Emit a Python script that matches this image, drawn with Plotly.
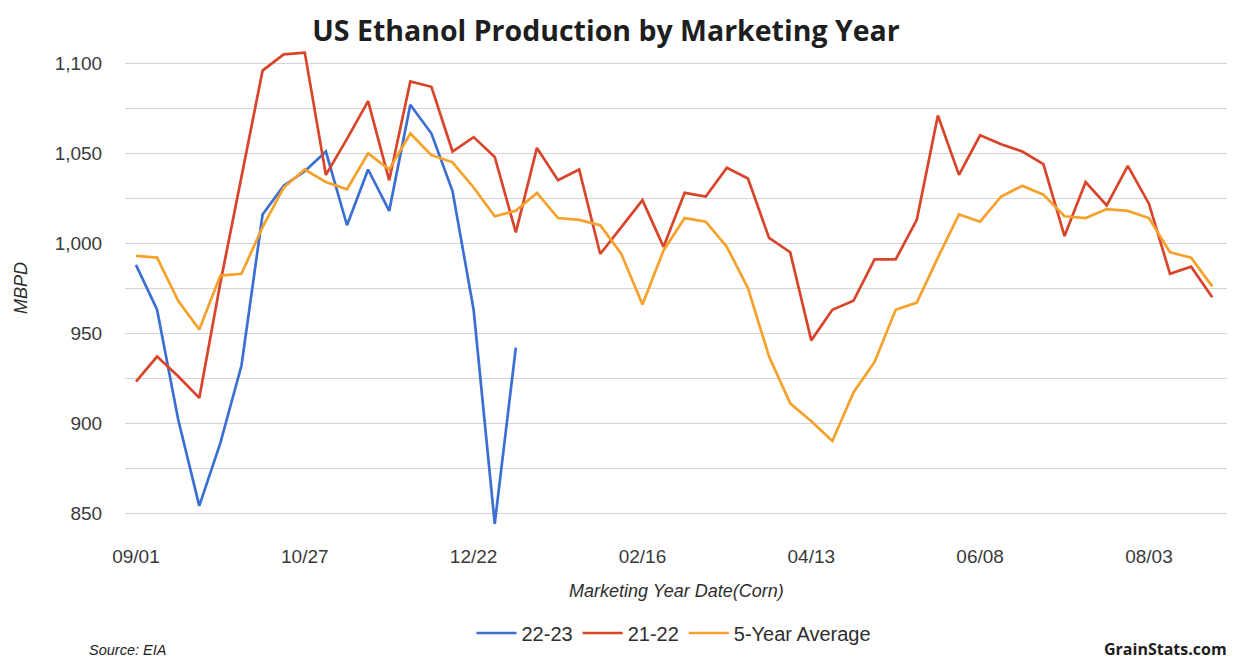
import pandas as pd
import plotly.graph_objects as go

# Weekly marketing-year dates (corn year starts 09/01)
weeks = pd.date_range("2022-09-01", periods=52, freq="7D").strftime("%m/%d").tolist()

# Ethanol production, thousand barrels per day
prod_22_23 = [988, 963, 902, 854, 889, 932, 1016, 1032, 1040, 1051, 1010, 1041,
              1018, 1077, 1061, 1029, 963, 844, 942]

prod_21_22 = [923, 937, 926, 914, 978, 1037, 1096, 1105, 1106, 1038, 1058, 1079,
              1035, 1090, 1087, 1051, 1059, 1048, 1006, 1053, 1035, 1041, 994, 1009,
              1024, 998, 1028, 1026, 1042, 1036, 1003, 995, 946, 963, 968, 991,
              991, 1013, 1071, 1038, 1060, 1055, 1051, 1044, 1004, 1034, 1021, 1043,
              1022, 983, 987, 970]

avg_5yr = [993, 992, 968, 952, 982, 983, 1009, 1031, 1041, 1034, 1030, 1050,
           1041, 1061, 1049, 1045, 1031, 1015, 1018, 1028, 1014, 1013, 1010, 994,
           966, 996, 1014, 1012, 998, 975, 937, 911, 901, 890, 917, 934,
           963, 967, 992, 1016, 1012, 1026, 1032, 1027, 1015, 1014, 1019, 1018,
           1014, 995, 992, 976]

x_tick_labels = ["09/01", "10/27", "12/22", "02/16", "04/13", "06/08", "08/03"]
y_tick_values = [850, 875, 900, 925, 950, 975, 1000, 1025, 1050, 1075, 1100]

FONT = "Liberation Sans, Arial, Helvetica, sans-serif"
TEXT = "#3a3a3a"

W, H = 1240, 661
M_L, M_R, M_T, M_B = 125, 13, 49, 130
PLOT_W = W - M_L - M_R
PLOT_H = H - M_T - M_B


def px(x, y):
    """Convert page pixel position to paper coordinates."""
    return (x - M_L) / PLOT_W, (H - M_B - y) / PLOT_H


fig = go.Figure()
series = [
    ("22-23", prod_22_23, "#3b6fd2"),
    ("21-22", prod_21_22, "#d8452a"),
    ("5-Year Average", avg_5yr, "#f5a12b"),
]
for name, vals, color in series:
    fig.add_trace(go.Scatter(
        x=weeks[:len(vals)], y=vals, name=name, mode="lines",
        line=dict(color=color, width=2.7),
    ))

mbpd_x, mbpd_y = px(21, 288)
xt_x, xt_y = px(676, 591)
src_x, src_y = px(87, 650)
gs_x, gs_y = px(1229, 649)

fig.update_layout(
    width=W, height=H,
    margin=dict(l=M_L, r=M_R, t=M_T, b=M_B),
    paper_bgcolor="white", plot_bgcolor="white",
    font=dict(family=FONT, size=19, color=TEXT),
    showlegend=True,
    title=dict(
        text="<b>US Ethanol Production by Marketing Year</b>",
        x=606 / W, xanchor="center", xref="container",
        y=1 - 31 / H, yanchor="middle", yref="container",
        font=dict(family="Open Sans, sans-serif", size=28.5, color="#1e1e1e"),
    ),
    legend=dict(
        orientation="h", x=674 / W, xanchor="center", xref="container",
        y=1 - 633 / H, yanchor="middle", yref="container",
        font=dict(family=FONT, size=20, color="#2e2e2e"),
        itemwidth=40,
    ),
    xaxis=dict(
        type="category", categoryorder="array", categoryarray=weeks,
        range=[-0.52, 51.7],
        tickvals=x_tick_labels, ticktext=x_tick_labels,
        showgrid=False, zeroline=False, showline=False,
        ticks="outside", ticklen=8, tickcolor="rgba(0,0,0,0)",
        tickfont=dict(family=FONT, size=19, color=TEXT),
    ),
    yaxis=dict(
        range=[840, 1108],
        tickvals=y_tick_values,
        ticktext=[f"{v:,}" if v % 50 == 0 else "" for v in y_tick_values],
        showgrid=True, gridcolor="#d4d4d4", gridwidth=1.2,
        zeroline=False, showline=False,
        ticks="outside", ticklen=18, tickcolor="rgba(0,0,0,0)",
        tickfont=dict(family=FONT, size=19, color=TEXT),
    ),
    annotations=[
        dict(text="<i>MBPD</i>", x=mbpd_x, y=mbpd_y, xref="paper", yref="paper",
             xanchor="center", yanchor="middle", showarrow=False, textangle=-90,
             font=dict(family=FONT, size=18, color="#2e2e2e")),
        dict(text="<i>Marketing Year Date(Corn)</i>", x=xt_x, y=xt_y,
             xref="paper", yref="paper", xanchor="center", yanchor="middle",
             showarrow=False,
             font=dict(family=FONT, size=18, color="#2e2e2e")),
        dict(text="<i>Source: EIA</i>", x=src_x, y=src_y,
             xref="paper", yref="paper", xanchor="left", yanchor="middle",
             showarrow=False,
             font=dict(family=FONT, size=14.5, color="#1e1e1e")),
        dict(text="<b>GrainStats.com</b>", x=gs_x, y=gs_y,
             xref="paper", yref="paper", xanchor="right", yanchor="middle",
             showarrow=False,
             font=dict(family="Open Sans, sans-serif", size=16, color="#1e1e1e")),
    ],
)

fig.write_html("out.html")
